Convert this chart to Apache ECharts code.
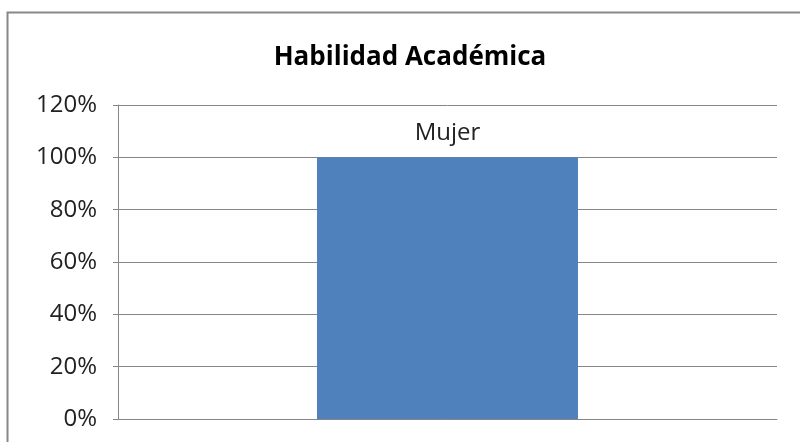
<!DOCTYPE html>
<html><head><meta charset="utf-8">
<script src="https://cdn.jsdelivr.net/npm/echarts@6/dist/echarts.min.js"></script>
<style>html,body{margin:0;padding:0;background:#fff}#c{width:800px;height:442px}</style>
</head><body><div id="c"></div>
<script>
var categories = ["Mujer"];
var values = [1.0];
var yTicks = [0, 0.2, 0.4, 0.6, 0.8, 1.0, 1.2];
var titleText = "Habilidad Académica";

var chart = echarts.init(document.getElementById('c'));
chart.setOption({
  animation: false,
  backgroundColor: '#fff',
  graphic: [{type:'rect', shape:{x:7.5,y:12.5,width:900,height:600}, style:{fill:'none', stroke:'#888', lineWidth:2}, silent:true}],
  title: {text: titleText, left: 405, top: 40, textAlign: 'center',
    textStyle:{fontFamily:'Open Sans', fontWeight:'bold', fontSize:26, color:'#000'}},
  grid: {left:118, right:23, top:105, bottom:23},
  xAxis: {type:'category', data: categories,
    axisLine:{show:true, lineStyle:{color:'#868686'}},
    axisTick:{show:false}, axisLabel:{show:false}},
  yAxis: {type:'value', min:0, max:1.2, interval:0.2,
    axisLine:{show:true, lineStyle:{color:'#868686'}},
    axisTick:{show:true, length:5, lineStyle:{color:'#868686'}},
    splitLine:{lineStyle:{color:'#868686'}},
    axisLabel:{margin:21, fontFamily:'Open Sans', fontSize:24, color:'#222',
      formatter: function(v){ return Math.round(v*100) + '%'; }}},
  series: [{type:'bar', data: values, barWidth:'39.6%',
    itemStyle:{color:'#4F81BD'},
    label:{show:true, position:'top', distance:12, formatter: function(p){return p.name;},
      fontFamily:'Open Sans', fontSize:24, color:'#222'}}]
});
</script></body></html>
